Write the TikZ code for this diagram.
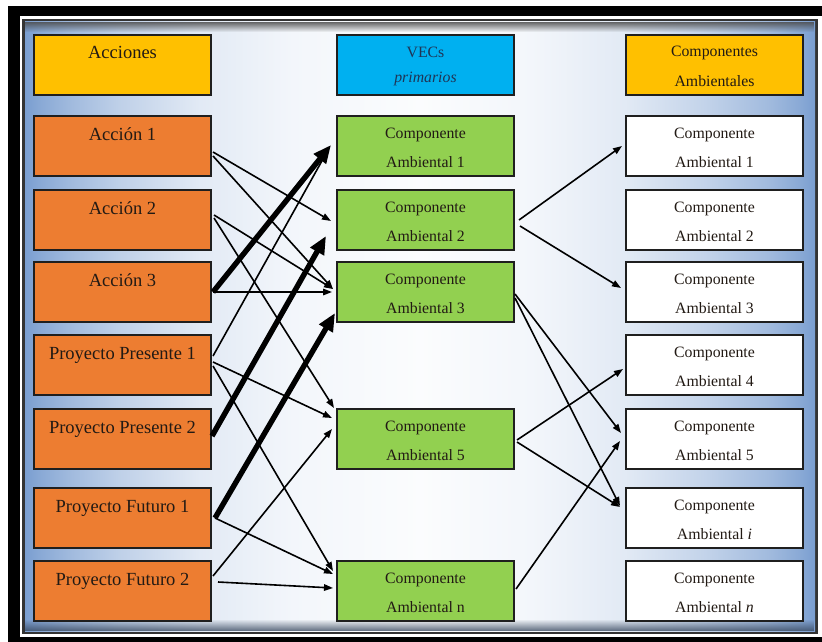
\documentclass[tikz,border=0pt]{standalone}
\usepackage{fontspec}
\setmainfont{Liberation Serif}
\usetikzlibrary{arrows.meta,calc,fadings}
\definecolor{pblue}{RGB}{122,158,208}
\definecolor{orng}{HTML}{ED7D31}
\definecolor{grn}{HTML}{92D050}
\definecolor{gold}{HTML}{FFC000}
\definecolor{vblue}{HTML}{00B0F0}
\definecolor{ink}{HTML}{221A14}
\definecolor{navy}{HTML}{1F3556}
\pgfdeclarehorizontalshading{panelsh}{100bp}{color(0bp)=(pblue); color(25bp)=(pblue); color(26bp)=(pblue!88!white); color(28bp)=(pblue!70!white); color(31bp)=(pblue!48!white); color(36bp)=(pblue!22!white); color(42bp)=(pblue!9!white); color(50bp)=(pblue!3!white); color(57bp)=(pblue!9!white); color(63bp)=(pblue!22!white); color(68bp)=(pblue!45!white); color(72bp)=(pblue!70!white); color(74bp)=(pblue!88!white); color(75bp)=(pblue); color(100bp)=(pblue)}
\tikzfading[name=fadedown, top color=transparent!15, bottom color=transparent!100]
\tikzfading[name=fadeup, bottom color=transparent!20, top color=transparent!100]
\begin{document}
\begin{tikzpicture}[x=1pt,y=-1pt,
 box/.style={draw=black!88, line width=2pt, anchor=north west, minimum width=177pt, minimum height=60pt, inner sep=0pt, outer sep=0pt},
 lbox/.style={box, fill=orng},
 gbox/.style={box, fill=grn},
 wbox/.style={box, fill=white},
 big/.style={anchor=base, inner sep=0pt, font=\fontsize{18.5}{22}\selectfont, text=ink},
 sml/.style={anchor=base, inner sep=0pt, font=\fontsize{15.8}{19}\selectfont, text=ink},
 thinarr/.style={draw=black, line width=1.6pt, -{Triangle[length=9pt,width=6.5pt]}},
 thickarr/.style={draw=black, line width=5.4pt, -{Triangle[length=18pt,width=15pt]}},
]
\useasboundingbox (0,0) rectangle (822,642);
% frame and panel
\fill[black] (8,6) rectangle (822,642);
\fill[white] (20,16) rectangle (822,637);
\fill[black!80] (22,19) rectangle (818,634);
\shade[shading=panelsh] (25,22) rectangle (815,631);
\fill[black!70, path fading=fadedown] (25,22) rectangle (815,32);
\fill[black!55!pblue, path fading=fadeup] (25,619) rectangle (815,631);

% headers
\node[box, fill=gold] (h1) at (34,35) {};
\node[box, fill=vblue] (h2) at (337,35) {};
\node[box, fill=gold] (h3) at (626,35) {};
\node[big] (h1t) at ($(h1.north)+(0,24)$) {Acciones};
\node[sml, text=navy] (h2t) at ($(h2.north)+(0,23)$) {VECs};
\node[sml, text=navy] (h2u) at ($(h2.north)+(0,48)$) {\textit{primarios}};
\node[sml] (h3t) at ($(h3.north)+(0,22)$) {Componentes};
\node[sml] (h3u) at ($(h3.north)+(0,51)$) {Ambientales};

% left column
\node[lbox] (a1) at (34,116) {};
\node[lbox] (a2) at (34,190) {};
\node[lbox] (a3) at (34,262) {};
\node[lbox] (p1) at (34,335) {};
\node[lbox] (p2) at (34,409) {};
\node[lbox] (f1) at (34,488) {};
\node[lbox] (f2) at (34,561) {};
\node[big] (a1t) at ($(a1.north)+(0,24)$) {Acción 1};
\node[big] (a2t) at ($(a2.north)+(0,24)$) {Acción 2};
\node[big] (a3t) at ($(a3.north)+(0,24)$) {Acción 3};
\node[big] (p1t) at ($(p1.north)+(0,24)$) {Proyecto Presente 1};
\node[big] (p2t) at ($(p2.north)+(0,24)$) {Proyecto Presente 2};
\node[big] (f1t) at ($(f1.north)+(0,24)$) {Proyecto Futuro 1};
\node[big] (f2t) at ($(f2.north)+(0,24)$) {Proyecto Futuro 2};

% middle column
\node[gbox] (c1) at (337,116) {};
\node[gbox] (c2) at (337,190) {};
\node[gbox] (c3) at (337,262) {};
\node[gbox] (c5) at (337,409) {};
\node[gbox] (cn) at (337,561) {};
\foreach \n/\l in {c1/1,c2/2,c3/3,c5/5,cn/n}{
  \node[sml] (\n t) at ($(\n.north)+(0,22)$) {Componente};
  \node[sml] (\n u) at ($(\n.north)+(0,51)$) {Ambiental \l};
}

% right column
\node[wbox] (r1) at (626,116) {};
\node[wbox] (r2) at (626,190) {};
\node[wbox] (r3) at (626,262) {};
\node[wbox] (r4) at (626,335) {};
\node[wbox] (r5) at (626,409) {};
\node[wbox] (ri) at (626,488) {};
\node[wbox] (rn) at (626,561) {};
\foreach \n/\l in {r1/1,r2/2,r3/3,r4/4,r5/5,ri/\textit{i},rn/\textit{n}}{
  \node[sml] (\n t) at ($(\n.north)+(0,22)$) {Componente};
  \node[sml] (\n u) at ($(\n.north)+(0,51)$) {Ambiental \l};
}

% left -> middle thin arrows
\draw[thinarr] ($(a1.north east)+(2,36)$) -- ($(c2.north west)+(-6,31)$);
\draw[thinarr] ($(a1.north east)+(2,40)$) -- ($(c3.north west)+(-4,27)$);
\draw[thinarr] ($(a2.north east)+(3,25)$) -- ($(c3.north west)+(-4,27)$);
\draw[thinarr] ($(a2.north east)+(3,28)$) -- ($(c5.north west)+(-3,-1)$);
\draw[thinarr] ($(a3.north east)+(2,30)$) -- ($(c3.north west)+(-5,30)$);
\draw[thinarr] ($(p1.north east)+(2,21)$) -- ($(c1.north west)+(-9,34)$);
\draw[thinarr] ($(p1.north east)+(2,27)$) -- ($(c5.north west)+(-5,9)$);
\draw[thinarr] ($(p1.north east)+(2,31)$) -- ($(cn.north west)+(-4,10)$);
\draw[thinarr] ($(f1.north east)+(4,30)$) -- ($(cn.north west)+(-4,13)$);
\draw[thinarr] ($(f2.north east)+(2,15)$) -- ($(c5.north west)+(-5,20)$);
\draw[thinarr] ($(f2.north east)+(7,21)$) -- ($(cn.north west)+(-4,27)$);
% thick arrows
\draw[thickarr] ($(a3.north east)+(2,30)$) -- ($(c1.north west)+(-6,29)$);
\draw[thickarr] ($(p2.north east)+(1,27)$) -- ($(c2.north west)+(-11,46)$);
\draw[thickarr] ($(f1.north east)+(4,30)$) -- ($(c3.north west)+(-2,51)$);

% middle -> right
\draw[thinarr] ($(c2.north east)+(5,30)$) -- ($(r1.north west)+(-4,30)$);
\draw[thinarr] ($(c2.north east)+(6,36)$) -- ($(r3.north west)+(-5,26)$);
\draw[thinarr] ($(c3.north east)+(1,32)$) -- ($(r5.north west)+(-5,24)$);
\draw[thinarr] ($(c3.north east)+(1,36)$) -- ($(ri.north west)+(-6,18)$);
\draw[thinarr] ($(c5.north east)+(3,31)$) -- ($(r4.north west)+(-3,34)$);
\draw[thinarr] ($(c5.north east)+(3,33)$) -- ($(ri.north west)+(-6,19)$);
\draw[thinarr] ($(cn.north east)+(2,28)$) -- ($(r5.north west)+(-6,32)$);
\end{tikzpicture}
\end{document}
